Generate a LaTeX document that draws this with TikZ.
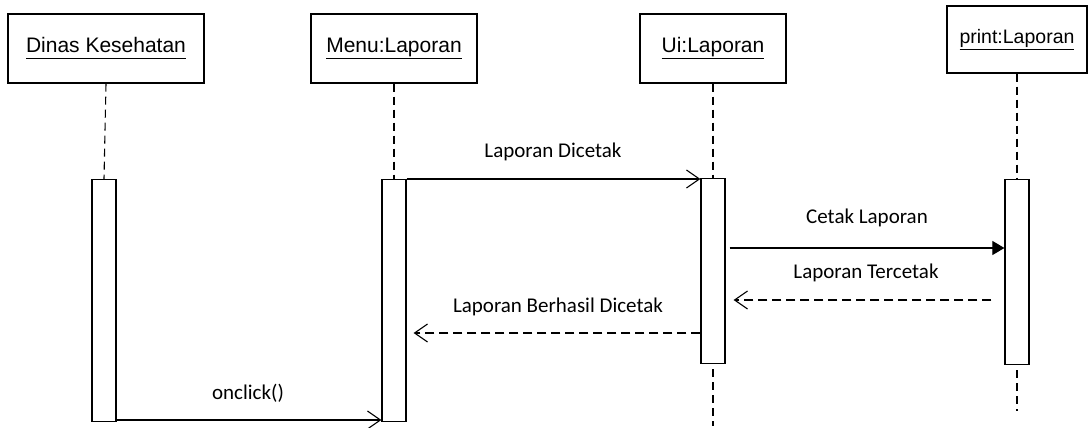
\documentclass[tikz,border=0pt]{standalone}
\usepackage{fontspec}
\setmainfont{Liberation Sans}
\newfontfamily\msgfont{Carlito}
\usetikzlibrary{arrows.meta}

\begin{document}
\begin{tikzpicture}[x=1pt,y=-1pt,
  obj/.style={draw, line width=1.2pt, minimum height=69pt, inner sep=0pt,
              font=\fontsize{21}{25}\selectfont},
  act/.style={draw, line width=1.2pt, minimum width=24pt, inner sep=0pt, anchor=north},
  life/.style={line width=1.1pt, dash pattern=on 8pt off 5pt},
  call/.style={line width=1.1pt, -{Straight Barb[length=13pt,width=18pt,line width=1.1pt]}},
  sync/.style={line width=1.1pt, -{Triangle[length=12pt,width=14pt]}},
  reply/.style={line width=1.1pt, dash pattern=on 9pt off 5pt,
                -{Straight Barb[length=13pt,width=18pt,line width=1.1pt]}},
  lbl/.style={font=\msgfont\fontsize{21}{25}\selectfont, inner sep=0pt}
]
\useasboundingbox (0,0) rectangle (1090,428);

% object heads
\node[obj, minimum width=196pt] (dinas) at (106,48.5) {\underline{Dinas Kesehatan\vphantom{p}}};
\node[obj, minimum width=166pt] (menu)  at (394,48.5) {\underline{Menu:Laporan}};
\node[obj, minimum width=146pt] (ui)    at (713,48.5) {\underline{Ui:Laporan}};
\node[obj, minimum width=140pt, minimum height=67pt, font=\fontsize{19.5}{23}\selectfont]
      (prt) at (1017,39.5) {\underline{print:Laporan}};

% activation bars
\node[act, minimum height=242pt] (a1) at (104,179) {};
\node[act, minimum height=242pt] (a2) at (394,179) {};
\node[act, minimum height=185pt] (a3) at (713,178) {};
\node[act, minimum height=185pt] (a4) at (1017,179) {};

% lifelines
\draw[life] (dinas.south) -- (a1.north);
\draw[life] (menu.south) -- (a2.north);
\draw[life] (ui.south) -- (a3.north);
\draw[life] (prt.south) -- (a4.north);
\coordinate (uiend) at (713,426);
\coordinate (prtend) at (1017,411);
\draw[life, dash phase=8pt] (a3.south) -- (uiend);
\draw[life, dash phase=8pt] (a4.south) -- (prtend);

% message rows
\coordinate (r1) at (0,179);
\coordinate (r2) at (0,248);
\coordinate (r3) at (0,300);
\coordinate (r4) at (0,333);
\coordinate (r5) at (0,420);

% messages
\draw[call] (a2.east |- r1) -- (a3.west |- r1);
\node[lbl] (t1) at (553,152) {Laporan Dicetak};

\draw[sync, shorten <=4pt] (a3.east |- r2) -- (a4.west |- r2);
\node[lbl] (t2) at (867,218) {Cetak Laporan};

\draw[reply, shorten <=13pt, shorten >=8pt] (a4.west |- r3) -- (a3.east |- r3);
\node[lbl] (t3) at (866,273) {Laporan Tercetak};

\draw[reply, shorten >=7pt] (a3.west |- r4) -- (a2.east |- r4);
\node[lbl] (t4) at (558,307) {Laporan Berhasil Dicetak};

\draw[call] (a1.east |- r5) -- (a2.west |- r5);
\node[lbl] (t5) at (248,393) {onclick()};
\end{tikzpicture}
\end{document}
